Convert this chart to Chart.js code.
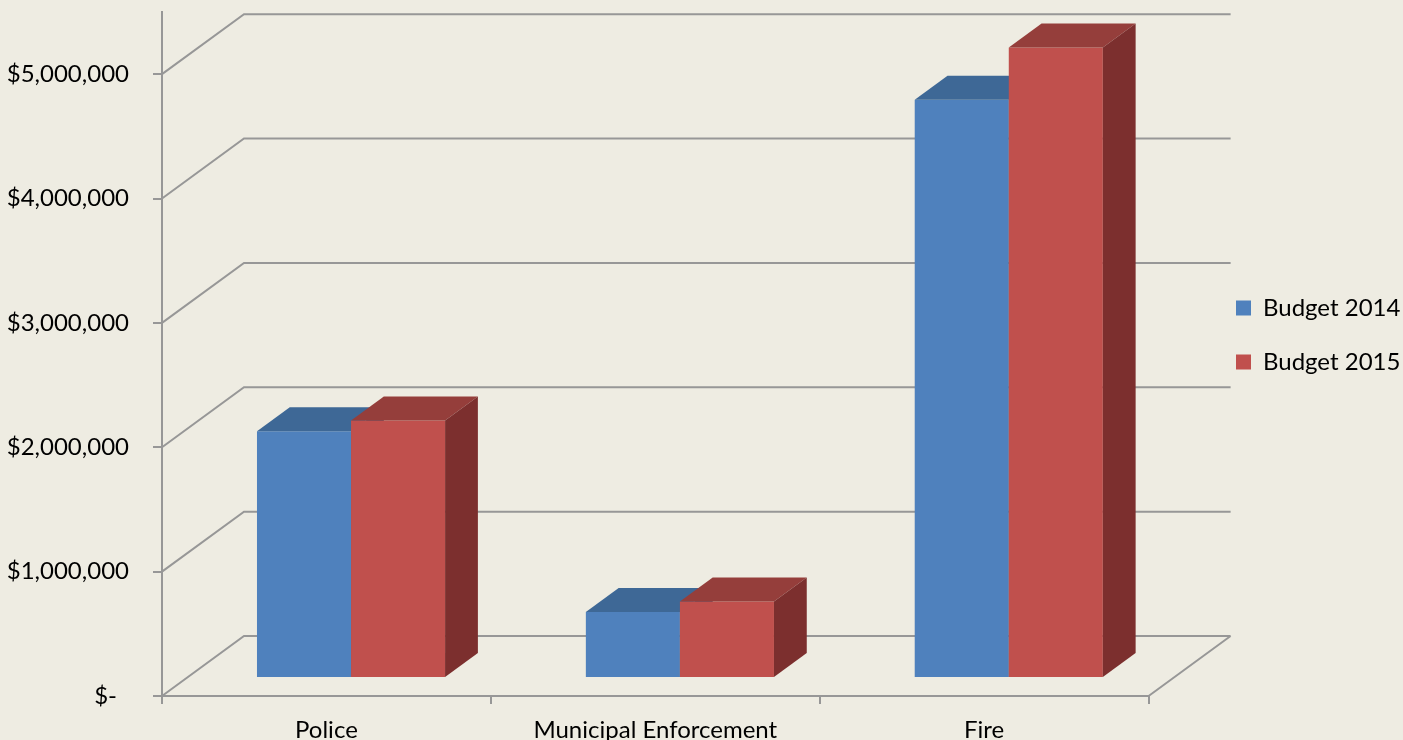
<!DOCTYPE html>
<html>
<head>
<meta charset="utf-8">
<title>Public Safety Budget</title>
<script src="https://cdn.jsdelivr.net/npm/chart.js@4.4.1/dist/chart.umd.min.js"></script>
<style>
  html, body { margin: 0; padding: 0; background: #EEECE2; }
  #wrap { width: 1403px; height: 740px; }
</style>
</head>
<body>
<div id="wrap"><canvas id="budgetChart"></canvas></div>
<script>
const departments = ['Police', 'Municipal Enforcement', 'Fire'];
const budget2014 = [1985000, 530000, 4650000];
const budget2015 = [2070000, 615000, 5070000];
const valueTicks = [0, 1000000, 2000000, 3000000, 4000000, 5000000];

const GRID = '#979797';
const DEPTH = { dx: 82, dy: -60 };      // how far the back wall sits behind the front plane
const BAR_FRONT = 0.3;                  // bars start 30% into the depth
const BAR_DEPTH = 0.4;                  // and are 40% of it deep

function money(v) {
  if (v === 0) return '$-\u2002';
  return '$' + v.toLocaleString('en-US');
}

// walls behind the bars, then every bar as a box (front, top, right side),
// painted left to right so neighbours overlap correctly
const depthPlugin = {
  id: 'depth3d',
  afterLayout(chart) {
    const lg = chart.legend;
    const w = lg.width;
    lg.left = 1206;
    lg.right = lg.left + w;
    lg.top = 266;
    lg.bottom = chart.height;
  },
  beforeDatasetsDraw(chart) {
    const { ctx, chartArea: a, scales: { y } } = chart;
    ctx.save();
    ctx.strokeStyle = GRID;
    ctx.lineWidth = 2;
    ctx.beginPath();
    valueTicks.forEach(v => {
      const py = y.getPixelForValue(v);
      ctx.moveTo(a.left, py);
      ctx.lineTo(a.left + DEPTH.dx, py + DEPTH.dy);
      ctx.lineTo(a.right + DEPTH.dx, py + DEPTH.dy);
    });
    // right edge of the floor
    ctx.moveTo(a.right, a.bottom);
    ctx.lineTo(a.right + DEPTH.dx, a.bottom + DEPTH.dy);
    ctx.stroke();
    ctx.restore();
  },
  beforeDatasetDraw() {
    return false;   // bars are painted in afterDatasetsDraw
  },
  afterDatasetsDraw(chart) {
    const ctx = chart.ctx;
    const sx = DEPTH.dx * BAR_DEPTH, sy = DEPTH.dy * BAR_DEPTH;
    ctx.save();
    ctx.translate(DEPTH.dx * BAR_FRONT, DEPTH.dy * BAR_FRONT);
    departments.forEach((_, i) => {
      chart.data.datasets.forEach((ds, d) => {
        const bar = chart.getDatasetMeta(d).data[i];
        const { x, y, base, width } = bar.getProps(['x', 'y', 'base', 'width'], true);
        const l = x - width / 2, r = x + width / 2;
        bar.draw(ctx);
        ctx.fillStyle = ds.topColor;
        ctx.beginPath();
        ctx.moveTo(l, y);
        ctx.lineTo(r, y);
        ctx.lineTo(r + sx, y + sy);
        ctx.lineTo(l + sx, y + sy);
        ctx.closePath();
        ctx.fill();
        ctx.fillStyle = ds.sideColor;
        ctx.beginPath();
        ctx.moveTo(r, y);
        ctx.lineTo(r + sx, y + sy);
        ctx.lineTo(r + sx, base + sy);
        ctx.lineTo(r, base);
        ctx.closePath();
        ctx.fill();
      });
    });
    ctx.restore();
  }
};

Chart.defaults.font.family = 'Lato';
Chart.defaults.font.size = 24;
Chart.defaults.color = '#000';

const ctx = document.getElementById('budgetChart').getContext('2d');
new Chart(ctx, {
  type: 'bar',
  data: {
    labels: departments,
    datasets: [{
      label: 'Budget 2014',
      data: budget2014,
      backgroundColor: '#4F81BD',
      topColor: '#3E6896',
      sideColor: '#34577F'
    }, {
      label: 'Budget 2015',
      data: budget2015,
      backgroundColor: '#C0504D',
      topColor: '#953E3B',
      sideColor: '#7C2F2E'
    }]
  },
  options: {
    responsive: true,
    maintainAspectRatio: false,
    animation: false,
    devicePixelRatio: 1,
    clip: false,
    categoryPercentage: 0.572,
    barPercentage: 1.0,
    layout: { padding: 0 },
    plugins: {
      tooltip: { enabled: false },
      legend: {
        position: 'right',
        align: 'start',
        labels: {
          boxWidth: 15,
          boxHeight: 15,
          padding: 30,
          color: '#000'
        }
      }
    },
    scales: {
      x: {
        grid: { drawOnChartArea: false, color: GRID, lineWidth: 2, tickLength: 8 },
        border: { color: GRID, width: 2 },
        ticks: { padding: 12, maxRotation: 0 },
        afterFit: s => { s.height = 44; }
      },
      y: {
        min: 0,
        max: 5500000,
        grid: { drawOnChartArea: false, color: GRID, lineWidth: 2, tickLength: 9 },
        border: { color: GRID, width: 2 },
        ticks: { padding: 24, callback: v => money(v) },
        afterBuildTicks: s => { s.ticks = valueTicks.map(v => ({ value: v })); },
        afterFit: s => { s.width = 162; s.paddingTop = 12; }
      },
      gap: {
        type: 'linear',
        position: 'right',
        display: true,
        grid: { display: false },
        border: { display: false },
        ticks: { display: false },
        afterFit: s => { s.width = 50; }
      }
    }
  },
  plugins: [depthPlugin]
});
</script>
</body>
</html>
